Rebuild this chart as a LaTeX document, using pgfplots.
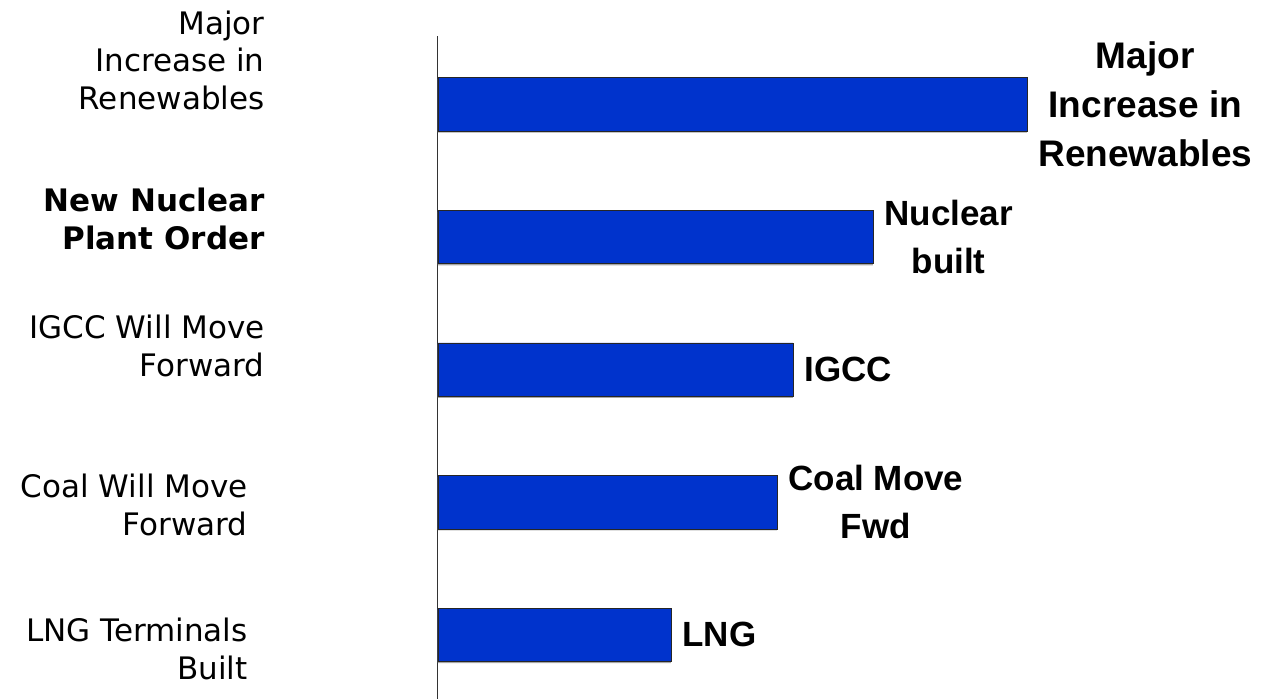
\documentclass[border=0pt]{standalone}
\usepackage{pgfplots}
\pgfplotsset{compat=1.18}
\usepackage{fontspec}
\setmainfont{DejaVu Sans}
\newfontfamily\barlabelfont{Liberation Sans}
\definecolor{barblue}{RGB}{0,51,204}

\begin{document}
\begin{tikzpicture}
\begin{axis}[
  name=ax,
  scale only axis,
  width=416.5pt, height=331.5pt,
  xmin=0, xmax=83.3,
  ymin=0.517, ymax=5.517,
  axis x line=none,
  axis y line*=left,
  axis line style={-, line width=0.5pt, black!80},
  xtick=\empty, ytick=\empty,
  major tick length=0pt,
  xbar, bar width=26.75pt,
  clip=false,
]
% soft shadow under each bar
\addplot[fill=black!35, draw=none, bar shift=-0.7pt]
  coordinates {(58.9,5) (43.5,4) (35.5,3) (33.9,2) (23.3,1)};
% the bars
\addplot[fill=barblue, draw=black!85, line width=0.4pt, bar shift=0pt]
  coordinates {(58.9,5) (43.5,4) (35.5,3) (33.9,2) (23.3,1)};

% labels at the end of each bar
\tikzset{endlab/.style={anchor=west, xshift=5.5pt, inner sep=0pt, align=center,
  font=\barlabelfont\bfseries\fontsize{17.5pt}{24pt}\selectfont}}
\node[endlab, font=\barlabelfont\bfseries\fontsize{18.5pt}{24.5pt}\selectfont]
  at (axis cs:58.9,5) {Major\\Increase in\\Renewables};
\node[endlab] at (axis cs:43.5,4) {Nuclear\\built};
\node[endlab] at (axis cs:35.5,3) {IGCC};
\node[endlab] at (axis cs:33.9,2) {Coal Move\\Fwd};
\node[endlab] at (axis cs:23.3,1) {LNG};

% category names on the left
\tikzset{catlab/.style={anchor=east, inner sep=0pt, align=right,
  font=\fontsize{15.5pt}{18.75pt}\selectfont}}
\node[catlab] at (axis cs:-17.3,5.336) {Major\\Increase in\\Renewables};
\node[catlab, font=\bfseries\fontsize{15.5pt}{18.75pt}\selectfont] at (axis cs:-17.3,4.137) {New Nuclear\\Plant Order};
\node[catlab] at (axis cs:-17.3,3.179) {IGCC Will Move\\Forward};
\node[catlab] at (axis cs:-19.0,1.980) {Coal Will Move\\Forward};
\node[catlab] at (axis cs:-19.0,0.894) {LNG Terminals\\Built};
\end{axis}
\pgfresetboundingbox
\path[use as bounding box] ([xshift=-219pt]ax.south west) rectangle ([yshift=18pt]ax.north east);
\end{tikzpicture}
\end{document}
